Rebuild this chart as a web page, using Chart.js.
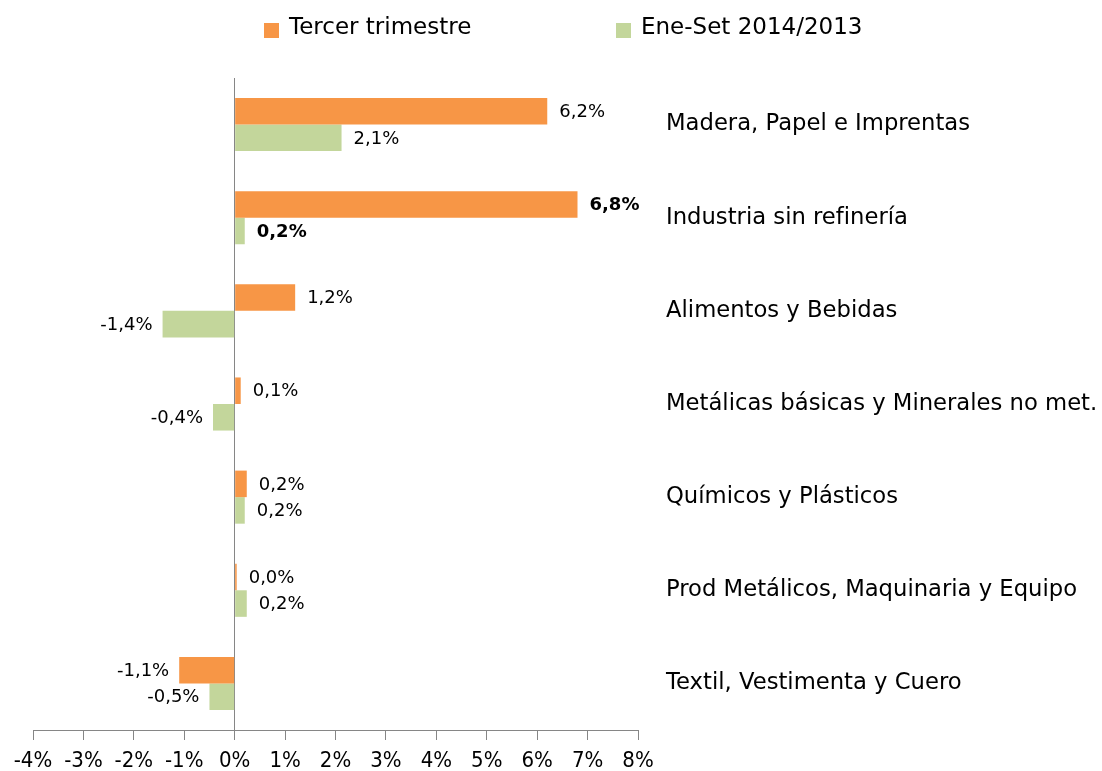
<!DOCTYPE html>
<html lang="es">
<head>
<meta charset="utf-8">
<title>Crecimiento industrial</title>
<script src="https://cdn.jsdelivr.net/npm/chart.js@4.4.1/dist/chart.umd.min.js"></script>
<style>
  html, body { margin: 0; padding: 0; background: #ffffff; }
  canvas { display: block; }
</style>
</head>
<body>
<canvas id="grafico" width="1102" height="771"></canvas>
<script>
// Datos del gráfico
const categorias = [
  'Madera, Papel e Imprentas',
  'Industria sin refinería',
  'Alimentos y Bebidas',
  'Metálicas básicas y Minerales no met.',
  'Químicos y Plásticos',
  'Prod Metálicos, Maquinaria y Equipo',
  'Textil, Vestimenta y Cuero'
];
const tercerTrimestre = [6.2, 6.8, 1.2, 0.12, 0.24, 0.04, -1.1];
const eneSet = [2.12, 0.2, -1.43, -0.43, 0.2, 0.24, -0.5];
const nombresSeries = ['Tercer trimestre', 'Ene-Set 2014/2013'];
const ejeMin = -4;
const ejeMax = 8;

const naranja = '#F79646';
const verde = '#C3D69B';
const gris = '#868686';
const fuente = '"DejaVu Sans", Verdana, sans-serif';

// formato 6,2%
function formatoPct(v) {
  return v.toFixed(1).replace('.', ',') + '%';
}

// Leyenda dibujada a mano (para colocarla como en el original)
const leyenda = {
  id: 'leyenda',
  afterDraw(chart) {
    const ctx = chart.ctx;
    const posiciones = [264, 616];
    ctx.save();
    ctx.font = '23px ' + fuente;
    ctx.textBaseline = 'middle';
    ctx.textAlign = 'left';
    chart.data.datasets.forEach((ds, i) => {
      const x = posiciones[i];
      ctx.fillStyle = ds.backgroundColor;
      ctx.fillRect(x, 23, 15, 15);
      ctx.fillStyle = '#000000';
      ctx.fillText(ds.label, x + 25, 28);
    });
    ctx.restore();
  }
};

// Etiquetas de valor al final de cada barra
const etiquetas = {
  id: 'etiquetas',
  afterDatasetsDraw(chart) {
    const ctx = chart.ctx;
    ctx.save();
    ctx.textBaseline = 'middle';
    ctx.fillStyle = '#000000';
    chart.data.datasets.forEach((ds, i) => {
      const meta = chart.getDatasetMeta(i);
      meta.data.forEach((barra, j) => {
        const v = ds.data[j];
        ctx.font = (j === 1 ? 'bold ' : '') + '18px ' + fuente;
        if (v >= 0) {
          ctx.textAlign = 'left';
          ctx.fillText(formatoPct(v), barra.x + 12, barra.y + 1);
        } else {
          ctx.textAlign = 'right';
          ctx.fillText(formatoPct(v), barra.x - 10, barra.y + 1);
        }
      });
    });
    ctx.restore();
  }
};

const ctx = document.getElementById('grafico').getContext('2d');

new Chart(ctx, {
  type: 'bar',
  data: {
    labels: categorias,
    datasets: [
      {
        label: nombresSeries[0],
        data: tercerTrimestre,
        backgroundColor: naranja,
        borderWidth: 0
      },
      {
        label: nombresSeries[1],
        data: eneSet,
        backgroundColor: verde,
        borderWidth: 0
      }
    ]
  },
  options: {
    indexAxis: 'y',
    responsive: false,
    animation: false,
    categoryPercentage: 0.57,
    barPercentage: 1.0,
    layout: {
      padding: { top: 78, left: 33, right: 0, bottom: 0 }
    },
    plugins: {
      legend: { display: false },
      tooltip: { enabled: false }
    },
    scales: {
      x: {
        type: 'linear',
        min: ejeMin,
        max: ejeMax,
        ticks: {
          stepSize: 1,
          padding: 8,
          color: '#000000',
          font: { family: '"DejaVu Sans Condensed", ' + fuente, size: 22 },
          callback: (v) => v + '%'
        },
        grid: {
          // solo la línea del cero atraviesa el gráfico
          color: (c) => (c.tick && c.tick.value === 0 ? gris : 'rgba(0,0,0,0)'),
          tickColor: gris,
          tickLength: 10,
          lineWidth: 1
        },
        border: { display: true, color: gris, width: 1 },
        afterFit(scale) {
          scale.height = 41;
          scale.paddingLeft = 0;
          scale.paddingRight = 0;
        }
      },
      y: {
        position: 'right',
        grid: { display: false, drawTicks: false, tickLength: 0 },
        border: { display: false },
        ticks: {
          padding: 28,
          crossAlign: 'near',
          color: '#000000',
          font: { family: fuente, size: 22.7 }
        },
        afterFit(scale) {
          scale.width = 464;
          scale.paddingTop = 0;
          scale.paddingBottom = 0;
        }
      }
    }
  },
  plugins: [leyenda, etiquetas]
});
</script>
</body>
</html>
